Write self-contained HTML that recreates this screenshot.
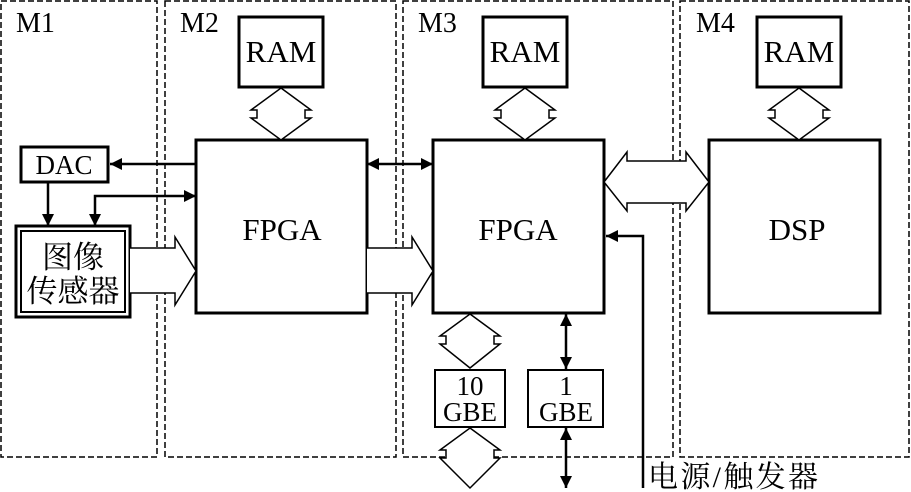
<!DOCTYPE html>
<html><head><meta charset="utf-8"><style>body{margin:0;background:#fff}svg{display:block}</style></head>
<body>
<svg width="911" height="492" viewBox="0 0 911 492" xmlns="http://www.w3.org/2000/svg" font-family="Liberation Serif, Noto Serif CJK SC, serif">
<defs>
<marker id="ab" viewBox="0 0 10 10" refX="10" refY="5" markerWidth="14" markerHeight="12" orient="auto-start-reverse" markerUnits="userSpaceOnUse"><path d="M0,0 L10,5 L0,10 z" fill="#000"/></marker>
</defs>
<g fill="none" stroke="#000" stroke-width="1.5" stroke-dasharray="6,3">
<rect x="1" y="1" width="156" height="456"/>
<rect x="165" y="1" width="231" height="456"/>
<rect x="403" y="1" width="270" height="456"/>
<rect x="680" y="1" width="229" height="456"/>
</g>
<g font-size="28" fill="#000">
<text x="16" y="32">M1</text><text x="180" y="32">M2</text><text x="418" y="32">M3</text><text x="696" y="32">M4</text>
</g>
<g fill="#fff" stroke="#000" stroke-width="3">
<rect x="239" y="17" width="84" height="70"/>
<rect x="483" y="17" width="84" height="70"/>
<rect x="757" y="17" width="84" height="70"/>
<rect x="196" y="140" width="171" height="173"/>
<rect x="433" y="140" width="171" height="173"/>
<rect x="709" y="140" width="171" height="173"/>
<rect x="21" y="147" width="87" height="35"/>
<rect x="435" y="370" width="70" height="57" stroke-width="2"/>
<rect x="528" y="370" width="75" height="57" stroke-width="2"/>
<rect x="16" y="226" width="114" height="91" stroke-width="3"/>
<rect x="21" y="231" width="104" height="81" stroke-width="2"/>
</g>
<g fill="#fff" stroke="#000" stroke-width="1.5">
<path d="M281,88 L311,110 L305,110 L305,118 L311,118 L281,140 L251,118 L257,118 L257,110 L251,110 Z"/>
<path d="M525,88 L555,110 L549,110 L549,118 L555,118 L525,140 L495,118 L501,118 L501,110 L495,110 Z"/>
<path d="M799,88 L829,110 L823,110 L823,118 L829,118 L799,140 L769,118 L775,118 L775,110 L769,110 Z"/>
<path d="M470,314 L500,336 L494,336 L494,344 L500,344 L470,368 L440,344 L446,344 L446,336 L440,336 Z"/>
<path d="M470,428 L500,450 L494,450 L494,458 L500,458 L470,488 L440,458 L446,458 L446,450 L440,450 Z"/>
<path d="M604,182 L627,152 L627,161 L686,161 L686,152 L709,182 L686,211 L686,203 L627,203 L627,211 Z"/>
<path d="M130,248 L175,248 L175,237 L196,271 L175,305 L175,293 L130,293"/>
<path d="M367,248 L412,248 L412,237 L433,271 L412,305 L412,293 L367,293"/>
</g>
<g stroke="#000" stroke-width="2.5" fill="none">
<line x1="196" y1="164" x2="110" y2="164" marker-end="url(#ab)"/>
<polyline points="95,226 95,196 196,196" marker-start="url(#ab)" marker-end="url(#ab)"/>
<line x1="48" y1="182" x2="48" y2="226" marker-end="url(#ab)"/>
<line x1="367" y1="164" x2="433" y2="164" marker-start="url(#ab)" marker-end="url(#ab)"/>
<line x1="566" y1="314" x2="566" y2="369" marker-start="url(#ab)" marker-end="url(#ab)"/>
<line x1="566" y1="428" x2="566" y2="488" marker-start="url(#ab)" marker-end="url(#ab)"/>
<polyline points="643,488 643,236 606,236" marker-end="url(#ab)"/>
</g>
<g font-size="31" fill="#000" text-anchor="middle">
<text x="281" y="62">RAM</text><text x="525" y="62">RAM</text><text x="799" y="62">RAM</text>
<text x="282" y="240">FPGA</text><text x="518" y="240">FPGA</text><text x="797" y="240">DSP</text>
<text x="64" y="174" font-size="27">DAC</text>
<text x="470" y="395" font-size="27">10</text><text x="470" y="421" font-size="27">GBE</text>
<text x="566" y="395" font-size="27">1</text><text x="566" y="421" font-size="27">GBE</text>
<text x="73" y="268" font-size="31">图像</text><text x="73" y="302" font-size="31">传感器</text>
</g>
<text x="648" y="487" font-size="30" fill="#000" textLength="170" lengthAdjust="spacing">电源/触发器</text>
</svg>
</body></html>
